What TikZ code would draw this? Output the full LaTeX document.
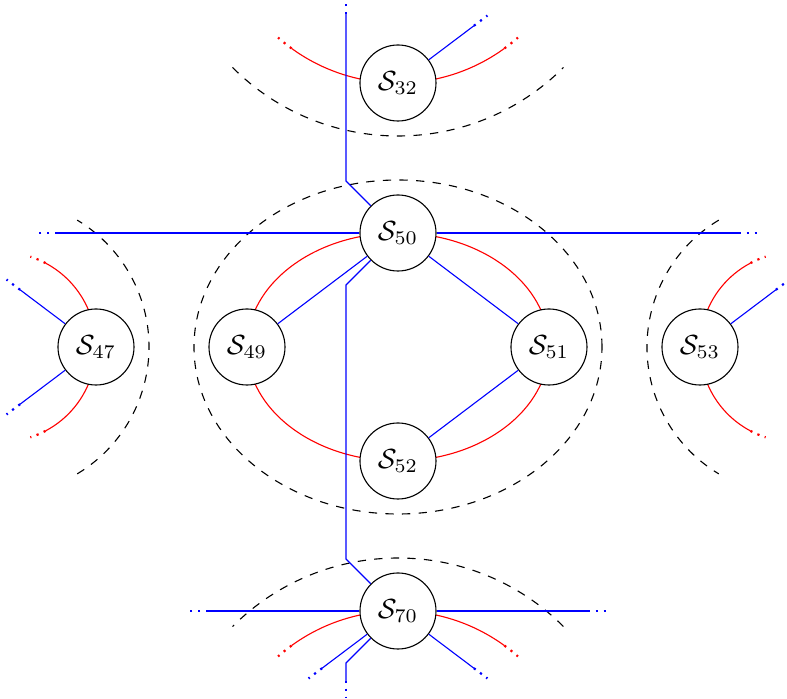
\documentclass[tikz,border=0pt]{standalone}
\usetikzlibrary{calc}
\begin{document}
\begin{tikzpicture}[x=0.0127cm,y=0.0127cm,
  site/.style={draw,circle,fill=white,inner sep=0pt,minimum size=0.965cm},
  hop/.style={blue},
  ring/.style={red},
  shell/.style={dashed},
  tail/.style={thick,dotted}]
\useasboundingbox (-398,-352) rectangle (389,347);

% ring centres
\coordinate (c32) at (0,445);
\coordinate (c70) at (0,-445);
\coordinate (c47) at (-397,0);
\coordinate (c53) at (397,0);

% middle ring
\draw[shell] (0,0) ellipse [x radius=204,y radius=167];
\draw[ring] (0,0) ellipse [x radius=151,y radius=114];

% upper ring
\draw[shell] (c32) ++(225:234) arc [start angle=225,end angle=315,radius=234];
\draw[ring] (c32) ++(234:181) arc [start angle=234,end angle=306,radius=181];
\draw[ring,tail] (c32) ++(234:181) arc [start angle=234,end angle=228.5,radius=181];
\draw[ring,tail] (c32) ++(306:181) arc [start angle=306,end angle=311.5,radius=181];

% lower ring
\draw[shell] (c70) ++(45:234) arc [start angle=45,end angle=135,radius=234];
\draw[ring] (c70) ++(54:181) arc [start angle=54,end angle=126,radius=181];
\draw[ring,tail] (c70) ++(54:181) arc [start angle=54,end angle=48.5,radius=181];
\draw[ring,tail] (c70) ++(126:181) arc [start angle=126,end angle=131.5,radius=181];

% left ring
\draw[shell] (c47) ++(-59:148) arc [start angle=-59,end angle=59,radius=148];
\draw[ring] (c47) ++(-62:95) arc [start angle=-62,end angle=62,radius=95];
\draw[ring,tail] (c47) ++(62:95) arc [start angle=62,end angle=72,radius=95];
\draw[ring,tail] (c47) ++(-62:95) arc [start angle=-62,end angle=-72,radius=95];

% right ring
\draw[shell] (c53) ++(121:148) arc [start angle=121,end angle=239,radius=148];
\draw[ring] (c53) ++(118:95) arc [start angle=118,end angle=242,radius=95];
\draw[ring,tail] (c53) ++(118:95) arc [start angle=118,end angle=108,radius=95];
\draw[ring,tail] (c53) ++(242:95) arc [start angle=242,end angle=252,radius=95];

% sites
\node[site] (S32) at (0,264) {$\mathcal{S}_{32}$};
\node[site] (S50) at (0,114) {$\mathcal{S}_{50}$};
\node[site] (S49) at (-151,0) {$\mathcal{S}_{49}$};
\node[site] (S51) at (151,0) {$\mathcal{S}_{51}$};
\node[site] (S52) at (0,-114) {$\mathcal{S}_{52}$};
\node[site] (S47) at (-302,0) {$\mathcal{S}_{47}$};
\node[site] (S53) at (302,0) {$\mathcal{S}_{53}$};
\node[site] (S70) at (0,-264) {$\mathcal{S}_{70}$};

% blue links
\draw[hop] (S49) -- (S50) -- (S51);
\draw[hop] (S52) -- (S51);

\coordinate (t1) at (-52,333);
\coordinate (t2) at (-52,166);
\coordinate (m1) at (-52,62);
\coordinate (m2) at (-52,-212);
\coordinate (d1) at (-52,-316);
\coordinate (d2) at (-52,-334);
\draw[hop] (t1) -- (t2) -- (S50);
\draw[hop] (S50) -- (m1) -- (m2) -- (S70);
\draw[hop] (S70) -- (d1) -- (d2);
\draw[hop,tail] (t1) -- ++(0,17);
\draw[hop,tail] (d2) -- ++(0,-17);

\coordinate (hl) at (-341,114);
\coordinate (hr) at (341,114);
\draw[hop] (hl) -- (S50) -- (hr);
\draw[hop,tail] (hl) -- ++(-23,0);
\draw[hop,tail] (hr) -- ++(23,0);

\coordinate (kl) at (-190,-264);
\coordinate (kr) at (190,-264);
\draw[hop] (kl) -- (S70) -- (kr);
\draw[hop,tail] (kl) -- ++(-23,0);
\draw[hop,tail] (kr) -- ++(23,0);

% spokes
\coordinate (b32) at ($(S32)+(37:95)$);
\coordinate (b47a) at ($(S47)+(143:95)$);
\coordinate (b47b) at ($(S47)+(217:95)$);
\coordinate (b53) at ($(S53)+(37:95)$);
\coordinate (b70a) at ($(S70)+(217:95)$);
\coordinate (b70b) at ($(S70)+(323:95)$);
\draw[hop] (S32) -- (b32);
\draw[hop] (S47) -- (b47a);
\draw[hop] (S47) -- (b47b);
\draw[hop] (S53) -- (b53);
\draw[hop] (S70) -- (b70a);
\draw[hop] (S70) -- (b70b);
\draw[hop,tail] (b32) -- ++(37:17);
\draw[hop,tail] (b47a) -- ++(143:17);
\draw[hop,tail] (b47b) -- ++(217:17);
\draw[hop,tail] (b53) -- ++(37:17);
\draw[hop,tail] (b70a) -- ++(217:17);
\draw[hop,tail] (b70b) -- ++(323:17);
\end{tikzpicture}
\end{document}
